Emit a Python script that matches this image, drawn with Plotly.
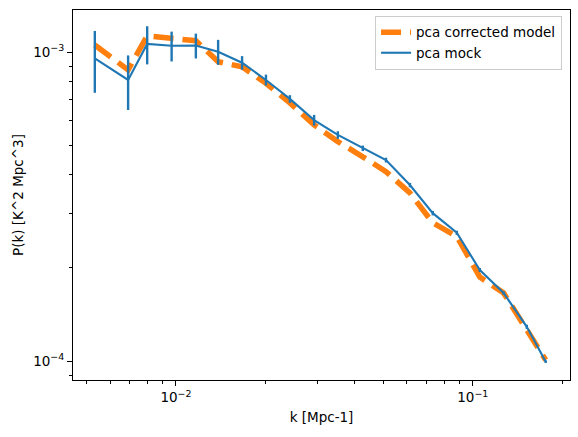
import plotly.graph_objects as go
import numpy as np

k = [0.00533, 0.0069, 0.0080, 0.00967, 0.01167, 0.01387, 0.0167, 0.0201, 0.0242, 0.0292,
     0.0351, 0.0426, 0.0510, 0.0614, 0.0733, 0.0883, 0.1056, 0.127, 0.152, 0.176]
mock_pk = [9.54e-4, 8.12e-4, 1.062e-3, 1.048e-3, 1.050e-3, 1.002e-3, 9.23e-4, 8.12e-4, 7.05e-4, 6.02e-4,
           5.39e-4, 4.88e-4, 4.47e-4, 3.71e-4, 3.01e-4, 2.60e-4, 1.97e-4, 1.66e-4, 1.29e-4, 9.95e-5]
mock_err = [2.16e-4, 1.63e-4, 1.5e-4, 1.16e-4, 0.97e-4, 0.93e-4, 0.47e-4, 0.33e-4, 0.2e-4, 0.24e-4,
            0.15e-4, 0.1e-4, 0.08e-4, 0.06e-4, 0.05e-4, 0.04e-4, 0.03e-4, 0.02e-4, 0.02e-4, 0.01e-4]
model_pk = [1.054e-3, 8.75e-4, 1.127e-3, 1.106e-3, 1.088e-3, 9.30e-4, 8.96e-4, 7.92e-4, 6.84e-4, 5.81e-4,
            5.13e-4, 4.58e-4, 4.10e-4, 3.50e-4, 2.80e-4, 2.53e-4, 1.87e-4, 1.66e-4, 1.26e-4, 1.007e-4]

x_major = [0.01, 0.1]
x_major_text = ["10<sup>\u22122</sup>", "10<sup>\u22121</sup>"]
x_minor = [0.005, 0.006, 0.007, 0.008, 0.009, 0.02, 0.03, 0.04, 0.05, 0.06, 0.07, 0.08, 0.09, 0.2]
y_major = [1e-4, 1e-3]
y_major_text = ["10<sup>\u22124</sup>", "10<sup>\u22123</sup>"]
y_minor = [9e-5, 2e-4, 3e-4, 4e-4, 5e-4, 6e-4, 7e-4, 8e-4, 9e-4]

fig = go.Figure()
fig.add_trace(go.Scatter(
    x=k, y=model_pk, mode="lines", name="pca corrected model",
    line=dict(color="#ff7f0e", width=5.5, dash="20px,9px"),
))
fig.add_trace(go.Scatter(
    x=k, y=mock_pk, mode="lines", name="pca mock",
    line=dict(color="#1f77b4", width=2.1),
    error_y=dict(type="data", array=mock_err, visible=True, color="#1f77b4", thickness=2.4, width=0),
))

axis_common = dict(
    type="log", showgrid=False, zeroline=False, showline=True, mirror=True,
    linecolor="black", linewidth=1.1, ticks="outside", ticklen=5, tickwidth=1.1,
    tickcolor="black", tickfont=dict(family="DejaVu Sans", size=13.5, color="black"),
)

fig.update_xaxes(
    **axis_common,
    range=[np.log10(0.0045), np.log10(0.2125)],
    tickmode="array", tickvals=x_major, ticktext=x_major_text,
    minor=dict(tickmode="array", tickvals=x_minor, ticks="outside", ticklen=3, tickwidth=0.9, tickcolor="black"),
    title=dict(text="k [Mpc-1]", font=dict(family="DejaVu Sans", size=13.5, color="black"), standoff=8),
)
fig.update_yaxes(
    **axis_common,
    range=[-4.0615, -2.864],
    tickmode="array", tickvals=y_major, ticktext=y_major_text,
    minor=dict(tickmode="array", tickvals=y_minor, ticks="outside", ticklen=3, tickwidth=0.9, tickcolor="black"),
    title=dict(text="P(k) [K^2 Mpc^3]", font=dict(family="DejaVu Sans", size=13.5, color="black"), standoff=6),
)

fig.update_layout(
    width=578, height=437,
    margin=dict(l=73, r=8, t=10, b=57),
    paper_bgcolor="white", plot_bgcolor="white",
    font=dict(family="DejaVu Sans", size=13.5, color="black"),
    legend=dict(
        x=0.984, y=0.984, xanchor="right", yanchor="top",
        bgcolor="rgba(255,255,255,0.8)", bordercolor="#cccccc", borderwidth=1,
        font=dict(family="DejaVu Sans", size=13.5, color="black"),
        itemwidth=30, tracegroupgap=0,
    ),
    showlegend=True,
)

fig.write_html("out.html")
